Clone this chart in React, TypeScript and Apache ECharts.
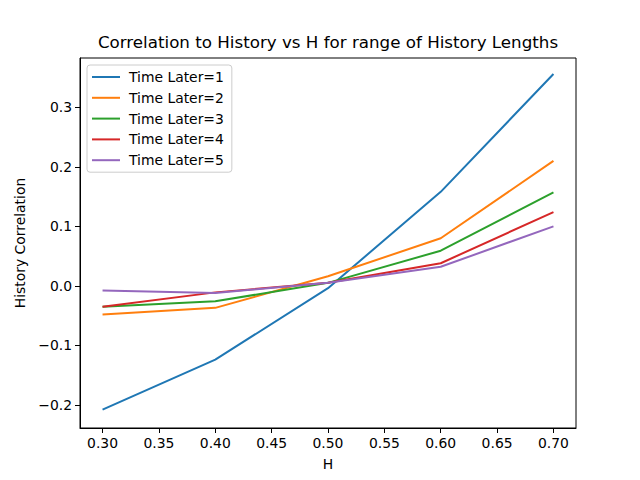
import React, { useEffect, useRef } from "react";
import * as echarts from "echarts";

const hValues = [0.3, 0.4, 0.5, 0.6, 0.7];
const seriesNames = ["Time Later=1", "Time Later=2", "Time Later=3", "Time Later=4", "Time Later=5"];
const later1 = [-0.208, -0.124, -0.004, 0.158, 0.356];
const later2 = [-0.048, -0.037, 0.016, 0.080, 0.210];
const later3 = [-0.035, -0.026, 0.005, 0.059, 0.157];
const later4 = [-0.035, -0.011, 0.005, 0.038, 0.124];
const later5 = [-0.008, -0.012, 0.005, 0.032, 0.100];
const xTicks = [0.3, 0.35, 0.4, 0.45, 0.5, 0.55, 0.6, 0.65, 0.7];
const yTicks = [-0.2, -0.1, 0.0, 0.1, 0.2, 0.3];
const colors = ["#1f77b4", "#ff7f0e", "#2ca02c", "#d62728", "#9467bd"];

const FONT = "DejaVu Sans";
const FS = 13.9;

export default function App() {
  const ref = useRef<HTMLDivElement>(null);
  useEffect(() => {
    if (!ref.current) return;
    const chart = echarts.init(ref.current, null, { renderer: "svg" });
    const all = [later1, later2, later3, later4, later5];
    chart.setOption({
      animation: false,
      backgroundColor: "#ffffff",
      textStyle: { fontFamily: FONT },
      title: {
        text: "Correlation to History vs H for range of History Lengths",
        left: 328,
        textAlign: "center",
        top: 33,
        padding: 0,
        textStyle: { fontFamily: FONT, fontSize: 16.7, fontWeight: "normal", color: "#000" },
      },
      legend: {
        orient: "vertical",
        left: 87,
        top: 65,
        icon: "rect",
        itemWidth: 28,
        itemHeight: 2,
        itemGap: 6.8,
        padding: [5, 8, 5, 5],
        backgroundColor: "rgba(255,255,255,0.8)",
        borderColor: "#cccccc",
        borderWidth: 1,
        borderRadius: 3,
        textStyle: { fontFamily: FONT, fontSize: FS, lineHeight: 14, color: "#000", padding: [0, 0, 0, 4] },
        data: seriesNames,
      },
      grid: {
        left: 80,
        right: 64,
        top: 58,
        bottom: 52,
        show: true,
        borderColor: "#000",
        borderWidth: 1,
      },
      xAxis: {
        type: "value",
        min: 0.28,
        max: 0.72,
        name: "H",
        nameLocation: "middle",
        nameGap: 29,
        nameTextStyle: { fontFamily: FONT, fontSize: FS, color: "#000" },
        splitLine: { show: false },
        axisLine: { show: true, onZero: false, lineStyle: { color: "#000", width: 1 } },
        axisTick: { show: true, customValues: xTicks, length: 5, lineStyle: { color: "#000" } },
        axisLabel: {
          customValues: xTicks,
          fontFamily: FONT,
          fontSize: FS,
          color: "#000",
          margin: 8,
          formatter: (v: number) => v.toFixed(2),
        },
      },
      yAxis: {
        type: "value",
        min: -0.239,
        max: 0.383,
        name: "History Correlation",
        nameLocation: "middle",
        nameGap: 50,
        nameTextStyle: { fontFamily: FONT, fontSize: FS, color: "#000" },
        splitLine: { show: false },
        axisLine: { show: true, onZero: false, lineStyle: { color: "#000", width: 1 } },
        axisTick: { show: true, customValues: yTicks, length: 5, lineStyle: { color: "#000" } },
        axisLabel: {
          customValues: yTicks,
          fontFamily: FONT,
          fontSize: FS,
          color: "#000",
          margin: 8,
          formatter: (v: number) => v.toFixed(1).replace("-", "\u2212"),
        },
      },
      series: all.map((vals, i) => ({
        name: seriesNames[i],
        type: "line",
        symbol: "none",
        color: colors[i],
        lineStyle: { width: 2, color: colors[i] },
        data: hValues.map((h, j) => [h, vals[j]]),
      })),
    });
    return () => chart.dispose();
  }, []);
  return (
    <div
      ref={ref}
      style={{ position: "fixed", left: 0, top: 0, width: 640, height: 480 }}
    />
  );
}
